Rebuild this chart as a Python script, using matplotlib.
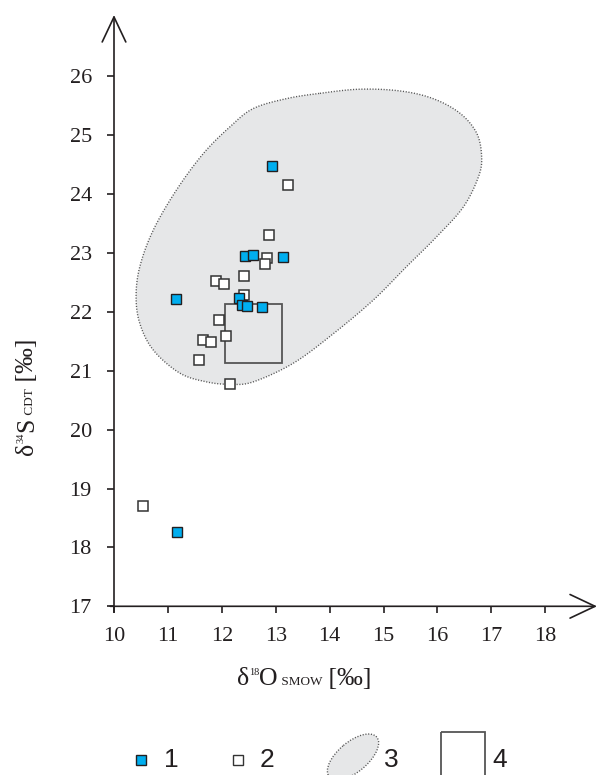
import numpy as np
import matplotlib.pyplot as plt
from matplotlib.patches import Polygon, Rectangle, Ellipse
from matplotlib.transforms import IdentityTransform

plt.rcParams['font.family'] = ['Liberation Serif', 'DejaVu Serif']

# 1 - filled squares
o18_1 = [12.94, 12.43, 12.58, 13.14, 12.32, 12.37, 12.47, 12.75, 11.15, 11.17]
s34_1 = [24.48, 22.94, 22.96, 22.93, 22.23, 22.11, 22.10, 22.08, 22.22, 18.27]
# 2 - open squares
o18_2 = [13.23, 12.88, 12.84, 12.80, 12.42, 11.89, 12.04, 12.42, 11.94,
         12.07, 11.65, 11.80, 11.58, 12.15, 10.54]
s34_2 = [24.15, 23.30, 22.92, 22.81, 22.61, 22.53, 22.47, 22.29, 21.86,
         21.59, 21.53, 21.48, 21.19, 20.77, 18.70]
# 3 - field outline
field_o18 = [13.82, 14.56, 15.31, 15.92, 16.42, 16.73, 16.82, 16.76, 16.48,
             15.99, 15.43, 14.81, 14.07, 13.33, 12.58, 12.15, 11.72, 11.22,
             10.73, 10.48, 10.41, 10.48, 10.73, 11.16, 11.66, 12.15, 12.58,
             13.20]
field_s34 = [25.71, 25.78, 25.75, 25.62, 25.37, 25.03, 24.63, 24.29, 23.78,
             23.28, 22.77, 22.20, 21.63, 21.13, 20.81, 20.77, 20.81, 20.96,
             21.35, 21.80, 22.26, 22.77, 23.39, 24.07, 24.69, 25.14, 25.45,
             25.62]
# 4 - box
box_o18 = [12.05, 13.11]
box_s34 = [21.13, 22.14]

xticks = list(range(10, 19))
yticks = list(range(17, 27))

ink = '#231f20'
cyan = '#00aeef'
grey = '#e6e7e8'


def smooth_closed(x, y, n=20):
    # catmull-rom through the outline points
    p = np.column_stack([x, y])
    k = len(p)
    t = np.linspace(0, 1, n, endpoint=False)[:, None]
    out = []
    for i in range(k):
        p0, p1, p2, p3 = p[i - 1], p[i], p[(i + 1) % k], p[(i + 2) % k]
        out.append(0.5 * (2 * p1 + (-p0 + p2) * t
                          + (2 * p0 - 5 * p1 + 4 * p2 - p3) * t ** 2
                          + (-p0 + 3 * p1 - 3 * p2 + p3) * t ** 3))
    return np.vstack(out)


def rich_label(pieces, x0, y0, vertical=False):
    # pieces: (text, fontsize, rise in px); x0, y0 = baseline start in px
    r = fig.canvas.get_renderer()
    pos = 0
    for s, size, rise in pieces:
        if vertical:
            t = fig.text(x0 - rise, y0 + pos, s, fontsize=size, rotation=90,
                         rotation_mode='anchor', ha='left', va='baseline',
                         transform=IdentityTransform(), color=ink)
            pos += t.get_window_extent(r).height
        else:
            t = fig.text(x0 + pos, y0 + rise, s, fontsize=size, ha='left',
                         va='baseline', transform=IdentityTransform(), color=ink)
            pos += t.get_window_extent(r).width


fig = plt.figure(figsize=(5.97, 7.75), dpi=100)
ax = fig.add_axes([114 / 597, 1 - 606.3 / 775, 483 / 597, 591.3 / 775])
ax.set_xlim(10, 18.96)
ax.set_ylim(17, 27.04)
for s in ax.spines.values():
    s.set_visible(False)

field = smooth_closed(field_o18, field_s34)
ax.add_patch(Polygon(field, closed=True, facecolor=grey, edgecolor='#555555',
                     lw=1.0, ls=(0, (0.8, 1.2)), zorder=1))
ax.add_patch(Rectangle((box_o18[0], box_s34[0]), box_o18[1] - box_o18[0],
                       box_s34[1] - box_s34[0], fill=False, edgecolor='#555555',
                       lw=1.3, zorder=2))
ax.plot(o18_2, s34_2, 's', ms=7, mfc='white', mec='#333333', mew=1.1, zorder=3)
ax.plot(o18_1, s34_1, 's', ms=7, mfc=cyan, mec=ink, mew=1.0, zorder=4)

ax.set_xticks(xticks)
ax.set_yticks(yticks)
ax.tick_params(direction='out', length=5, width=1.2, color=ink,
               labelsize=16, labelcolor=ink)
ax.tick_params(axis='x', pad=10)
ax.tick_params(axis='y', pad=11)

arr = dict(arrowstyle='->,head_length=1.8,head_width=0.85', lw=1.2, color=ink,
           shrinkA=0, shrinkB=0, mutation_scale=10)
ax.annotate('', xy=(18.96, 17), xytext=(9.93, 17), arrowprops=arr,
            annotation_clip=False)
ax.annotate('', xy=(10, 27.04), xytext=(10, 16.9), arrowprops=arr,
            annotation_clip=False)

rich_label([('δ', 18.5, 0), ('18', 7.5, 10), ('O', 18.5, 0),
            (' SMOW', 9.5, 0), (' [‰]', 18.5, 0)], 237, 775 - 685)
rich_label([('δ', 18.5, 0), ('34', 7.5, 10), ('S', 18.5, 0),
            (' CDT', 9.5, 0), (' [‰]', 18.5, 0)], 33, 775 - 455, vertical=True)

# legend strip at the bottom, in pixel units
lax = fig.add_axes([0, 0, 1, 75 / 775])
lax.set_xlim(0, 597)
lax.set_ylim(775, 700)
lax.axis('off')
sans = 'Liberation Sans'
lax.plot([141], [760], 's', ms=6.5, mfc=cyan, mec=ink, mew=1.0)
lax.text(171, 760, '1', ha='center', va='center', fontsize=19, family=sans, color=ink)
lax.plot([238], [760], 's', ms=6.5, mfc='white', mec='#333333', mew=1.0)
lax.text(267, 760, '2', ha='center', va='center', fontsize=19, family=sans, color=ink)
lax.add_patch(Ellipse((353, 757), 62, 30, angle=-40, facecolor=grey,
                      edgecolor='#555555', lw=1.0, ls=(0, (0.8, 1.2))))
lax.text(391, 760, '3', ha='center', va='center', fontsize=19, family=sans, color=ink)
lax.add_patch(Rectangle((441, 732), 44, 60, fill=False, edgecolor='#555555', lw=1.3))
lax.text(500, 760, '4', ha='center', va='center', fontsize=19, family=sans, color=ink)

fig.savefig('out.png', dpi=100)
